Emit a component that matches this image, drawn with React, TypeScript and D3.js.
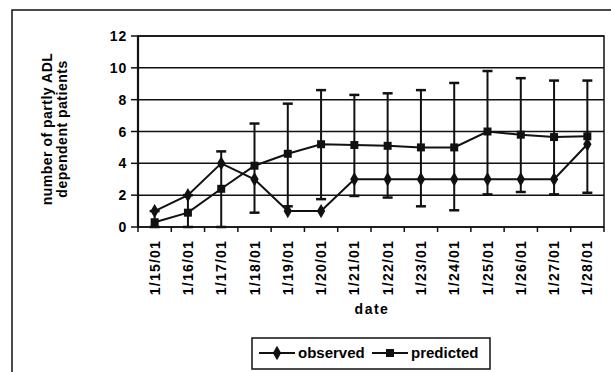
import { useRef, useEffect } from 'react';
import * as d3 from 'd3';

const dates = ['1/15/01', '1/16/01', '1/17/01', '1/18/01', '1/19/01', '1/20/01', '1/21/01',
  '1/22/01', '1/23/01', '1/24/01', '1/25/01', '1/26/01', '1/27/01', '1/28/01'];
const observed = [1, 2, 4, 3, 1, 1, 3, 3, 3, 3, 3, 3, 3, 5.2];
const predicted = [0.3, 0.9, 2.4, 3.85, 4.6, 5.2, 5.15, 5.1, 5.0, 5.0, 6.0, 5.8, 5.65, 5.7];
const upper = [1.0, 2.0, 4.75, 6.5, 7.75, 8.6, 8.3, 8.4, 8.6, 9.05, 9.8, 9.35, 9.2, 9.2];
const lower = [0, 0, 0, 0.9, 1.3, 1.75, 1.95, 1.85, 1.3, 1.05, 2.05, 2.2, 2.05, 2.15];
const yTicks = [0, 2, 4, 6, 8, 10, 12];

export default function App() {
  const ref = useRef<SVGSVGElement>(null);

  useEffect(() => {
    if (!ref.current) return;
    const left = 138, right = 604, top = 36, bottom = 227;
    const font = 'Liberation Sans, Arial, sans-serif';
    const ink = '#111';

    const svg = d3.select(ref.current);
    svg.selectAll('*').remove();

    // outer chart frame, only its top and left edge are inside the picture
    svg.append('rect')
      .attr('x', 12).attr('y', 10)
      .attr('width', 700).attr('height', 500)
      .attr('fill', 'white').attr('stroke', ink).attr('stroke-width', 1.5);

    const x = d3.scaleBand().domain(dates).range([left, right]);
    const y = d3.scaleLinear().domain([0, 12]).range([bottom, top]);
    const cx = (i: number) => (x(dates[i]) as number) + x.bandwidth() / 2;

    const g = svg.append('g');

    g.selectAll('line.grid')
      .data(yTicks)
      .enter()
      .append('line')
      .attr('x1', left).attr('x2', right)
      .attr('y1', (d) => y(d)).attr('y2', (d) => y(d))
      .attr('stroke', ink).attr('stroke-width', 1.5);

    g.append('rect')
      .attr('x', left).attr('y', top)
      .attr('width', right - left).attr('height', bottom - top)
      .attr('fill', 'none').attr('stroke', ink).attr('stroke-width', 1.5);
    g.append('line')
      .attr('x1', left).attr('x2', left).attr('y1', top).attr('y2', bottom)
      .attr('stroke', ink).attr('stroke-width', 2.2);

    // y axis
    g.selectAll('line.ytick')
      .data(yTicks)
      .enter()
      .append('line')
      .attr('x1', left - 7).attr('x2', left)
      .attr('y1', (d) => y(d)).attr('y2', (d) => y(d))
      .attr('stroke', ink).attr('stroke-width', 1.5);

    g.selectAll('text.ylab')
      .data(yTicks)
      .enter()
      .append('text')
      .attr('x', left - 11)
      .attr('y', (d) => y(d))
      .attr('dy', '0.36em')
      .attr('text-anchor', 'end')
      .style('font-family', font)
      .style('font-weight', 'bold')
      .style('font-size', '14px')
      .style('letter-spacing', '0.8px')
      .text((d) => d);

    // x axis, ticks sit between categories
    const bounds = dates.map((d) => x(d) as number).concat([right]);
    g.selectAll('line.xtick')
      .data(bounds)
      .enter()
      .append('line')
      .attr('x1', (d) => d).attr('x2', (d) => d)
      .attr('y1', bottom).attr('y2', bottom + 5)
      .attr('stroke', ink).attr('stroke-width', 1.5);

    g.selectAll('text.xlab')
      .data(dates)
      .enter()
      .append('text')
      .attr('transform', (d, i) => `translate(${cx(i) + 5}, ${bottom + 13}) rotate(-90)`)
      .attr('text-anchor', 'end')
      .style('font-family', font)
      .style('font-weight', 'bold')
      .style('font-size', '14px')
      .style('letter-spacing', '1.2px')
      .text((d) => d);

    // error bars
    const cap = 5;
    dates.forEach((d, i) => {
      const xc = cx(i);
      g.append('line')
        .attr('x1', xc).attr('x2', xc)
        .attr('y1', y(lower[i])).attr('y2', y(upper[i]))
        .attr('stroke', ink).attr('stroke-width', 2);
      [lower[i], upper[i]].forEach((v) => {
        g.append('line')
          .attr('x1', xc - cap).attr('x2', xc + cap)
          .attr('y1', y(v)).attr('y2', y(v))
          .attr('stroke', ink).attr('stroke-width', 2.5);
      });
    });

    const line = d3.line<number>().x((d, i) => cx(i)).y((d) => y(d));

    g.append('path').datum(observed).attr('d', line)
      .attr('fill', 'none').attr('stroke', ink).attr('stroke-width', 2);
    g.append('path').datum(predicted).attr('d', line)
      .attr('fill', 'none').attr('stroke', ink).attr('stroke-width', 2);

    const diamond = d3.symbol().type(d3.symbolDiamond).size(60);
    const square = d3.symbol().type(d3.symbolSquare).size(64);

    g.selectAll('path.obs')
      .data(observed)
      .enter()
      .append('path')
      .attr('d', diamond)
      .attr('transform', (d, i) => `translate(${cx(i)}, ${y(d)})`)
      .attr('fill', ink);

    g.selectAll('path.pred')
      .data(predicted)
      .enter()
      .append('path')
      .attr('d', square)
      .attr('transform', (d, i) => `translate(${cx(i)}, ${y(d)})`)
      .attr('fill', ink);

    // axis titles
    svg.append('text')
      .attr('x', 372).attr('y', 314)
      .attr('text-anchor', 'middle')
      .style('font-family', font).style('font-weight', 'bold').style('font-size', '14px')
      .style('letter-spacing', '1.5px')
      .text('date');

    const yt = svg.append('text')
      .attr('transform', `translate(52, 129) rotate(-90)`)
      .attr('text-anchor', 'middle')
      .style('font-family', font).style('font-weight', 'bold').style('font-size', '14px')
      .style('letter-spacing', '0.5px');
    yt.append('tspan').attr('x', 0).attr('dy', 0).text('number of partly ADL');
    yt.append('tspan').attr('x', 0).attr('dy', 15).text('dependent patients');

    // legend
    const lg = svg.append('g').attr('transform', 'translate(252, 338)');
    lg.append('rect').attr('width', 238).attr('height', 31)
      .attr('fill', 'white').attr('stroke', ink).attr('stroke-width', 1.5);
    const items = [
      { label: 'observed', sym: diamond, x0: 7 },
      { label: 'predicted', sym: square, x0: 120 },
    ];
    items.forEach((it) => {
      lg.append('line').attr('x1', it.x0).attr('x2', it.x0 + 36)
        .attr('y1', 15).attr('y2', 15).attr('stroke', ink).attr('stroke-width', 2);
      lg.append('path').attr('d', it.sym).attr('transform', `translate(${it.x0 + 18}, 15)`).attr('fill', ink);
      lg.append('text').attr('x', it.x0 + 39).attr('y', 15).attr('dy', '0.36em')
        .style('font-family', font).style('font-weight', 'bold').style('font-size', '15px')
        .text(it.label);
    });
  }, []);

  return (
    <div style={{ position: 'fixed', left: 0, top: 0, background: 'white' }}>
      <svg ref={ref} width={611} height={372} style={{ display: 'block' }} />
    </div>
  );
}
